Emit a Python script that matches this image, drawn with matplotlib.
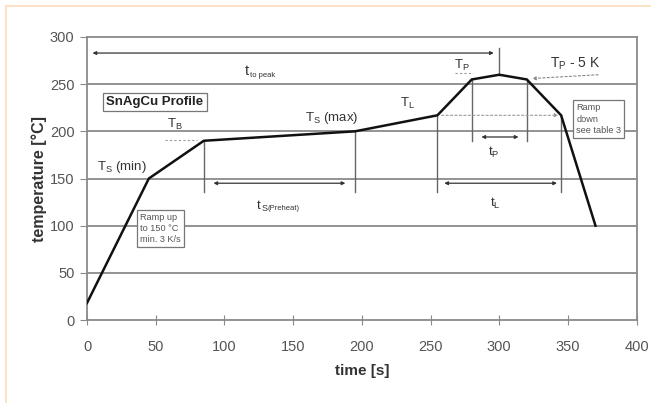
import matplotlib
matplotlib.use("Agg")
import matplotlib.pyplot as plt
from matplotlib.patches import Rectangle

plt.rcParams['font.family'] = ['Liberation Sans', 'DejaVu Sans']
plt.rcParams['mathtext.fontset'] = 'custom'
plt.rcParams['mathtext.rm'] = 'Liberation Sans'
plt.rcParams['mathtext.it'] = 'Liberation Sans'

# ---- data ----
time_s = [0, 45, 85, 195, 255, 280, 300, 320, 345, 370]
temp_c = [18, 150, 190, 200, 217, 255, 260, 255, 217, 100]
x_ticks = [0, 50, 100, 150, 200, 250, 300, 350, 400]
y_ticks = [0, 50, 100, 150, 200, 250, 300]
x_label = "time [s]"
y_label = "temperature [°C]"

# phase boundaries (time, temp at boundary)
t_smin, T_smin = 45, 150
t_b, T_b = 85, 190
t_smax, T_smax = 195, 200
t_l1, T_l = 255, 217
t_p1, T_p5 = 280, 255
t_peak, T_peak = 300, 260
t_p2 = 320
t_l2 = 345

fig = plt.figure(figsize=(6.51, 4.03), dpi=100)
fig.patch.set_facecolor('white')
# light orange border
fig.add_artist(Rectangle((6/651, -0.05), 2.0, 1 - 6/403 + 0.05, transform=fig.transFigure,
                         fill=False, edgecolor='#fcdcb8', lw=1.2))

ax = fig.add_axes([87/651, 1 - 320/403, (636.7 - 87)/651, (320 - 37)/403])
ax.set_xlim(0, 400)
ax.set_ylim(0, 300)

grid_c = '#8a8a8a'
for y in y_ticks[1:-1]:
    ax.axhline(y, color=grid_c, lw=1.3, zorder=1)
for s in ['left', 'right', 'bottom', 'top']:
    ax.spines[s].set_color(grid_c)
    ax.spines[s].set_linewidth(1.3)

ax.set_xticks(x_ticks)
ax.set_yticks(y_ticks)
ax.tick_params(axis='x', direction='inout', length=7, color=grid_c, labelsize=10.5,
               labelcolor='#555555', pad=11)
ax.tick_params(axis='y', direction='out', length=5, color=grid_c, labelsize=10.5,
               labelcolor='#555555', pad=4)
ax.set_xlabel(x_label, fontsize=11, fontweight='bold', color='#333333', labelpad=7)
ax.set_ylabel(y_label, fontsize=11.5, fontweight='bold', color='#333333', labelpad=2)

# profile
ax.plot(time_s, temp_c, color='#111111', lw=1.8, zorder=5, solid_joinstyle='miter')

mk_c = '#666666'
# vertical markers
for t, T in [(t_b, T_b), (t_smax, T_smax), (t_l1, T_l), (t_l2, T_l)]:
    ax.plot([t, t], [T, 136], color=mk_c, lw=1.0, zorder=3)
for t in [t_p1, t_p2]:
    ax.plot([t, t], [T_p5, 190], color=mk_c, lw=1.0, zorder=3)
ax.plot([t_peak, t_peak], [T_peak, 288], color=mk_c, lw=1.0, zorder=3)

arr = dict(arrowstyle='<|-|>', color='#333333', lw=0.9, mutation_scale=5, shrinkA=0, shrinkB=0)
ax.annotate('', xy=(4, 283), xytext=(296, 283), arrowprops=arr)
ax.annotate('', xy=(92, 145), xytext=(188, 145), arrowprops=arr)
ax.annotate('', xy=(260, 145), xytext=(342, 145), arrowprops=arr)
ax.annotate('', xy=(287, 194), xytext=(314, 194), arrowprops=arr)

# dotted helper lines
dot = dict(color='#999999', lw=0.8, ls=(0, (2, 2)))
ax.plot([57, 80], [191, 191], **dot)
ax.plot([268, 281], [262, 262], **dot)
ax.annotate('', xy=(t_l2 - 2, T_l), xytext=(t_l1 + 3, T_l),
            arrowprops=dict(arrowstyle='-|>', color='#999999', lw=0.8, ls=(0, (2, 2)),
                            mutation_scale=5, shrinkA=0, shrinkB=0))
ax.annotate('', xy=(324, 256), xytext=(372, 260),
            arrowprops=dict(arrowstyle='-|>', color='#888888', lw=0.8, ls=(0, (2, 2)),
                            mutation_scale=5, shrinkA=0, shrinkB=0))

tc = '#333333'
fs = 9.5
sub = 5.5
# t to peak (main letter + tiny subscript)
ax.text(116, 264, 't', fontsize=fs + 1, color=tc, ha='center', va='center')
ax.text(118.5, 259, 'to peak', fontsize=sub, color=tc, ha='left', va='center')
ax.text(125, 121, 't', fontsize=fs, color=tc, ha='center', va='center')
ax.text(127, 118, 'S', fontsize=sub + 1, color=tc, ha='left', va='center')
ax.text(131, 118, '(Preheat)', fontsize=sub, color=tc, ha='left', va='center')

ax.text(7, 162, r'T$_\mathrm{S}$ (min)', fontsize=fs, color=tc, ha='left', va='center')
ax.text(64, 207, r'T$_\mathrm{B}$', fontsize=fs, color=tc, ha='center', va='center')
ax.text(178, 214, r'T$_\mathrm{S}$ (max)', fontsize=fs, color=tc, ha='center', va='center')
ax.text(233, 230, r'T$_\mathrm{L}$', fontsize=fs, color=tc, ha='center', va='center')
ax.text(273, 270, r'T$_\mathrm{P}$', fontsize=fs, color=tc, ha='center', va='center')
ax.text(355, 272, r'T$_\mathrm{P}$ - 5 K', fontsize=fs + 0.5, color=tc, ha='center', va='center')
ax.text(296, 178, r't$_\mathrm{P}$', fontsize=fs, color=tc, ha='center', va='center')
ax.text(297, 124, r't$_\mathrm{L}$', fontsize=fs, color=tc, ha='center', va='center')

ax.text(14, 231, 'SnAgCu Profile', fontsize=9.5, fontweight='bold', color='#222222',
        ha='left', va='center', zorder=6,
        bbox=dict(boxstyle='square,pad=0.25', fc='white', ec='#777777', lw=0.9))
ax.text(38.5, 97, 'Ramp up\nto 150 °C\nmin. 3 K/s', fontsize=6.6, color='#555555',
        ha='left', va='center', linespacing=1.25, zorder=6,
        bbox=dict(boxstyle='square,pad=0.35', fc='white', ec='#777777', lw=0.9))
ax.text(356, 213, 'Ramp\ndown\nsee table 3', fontsize=6.6, color='#555555',
        ha='left', va='center', linespacing=1.3, zorder=6,
        bbox=dict(boxstyle='square,pad=0.35', fc='white', ec='#777777', lw=0.9))

fig.savefig('out.png', dpi=100, facecolor='white')
